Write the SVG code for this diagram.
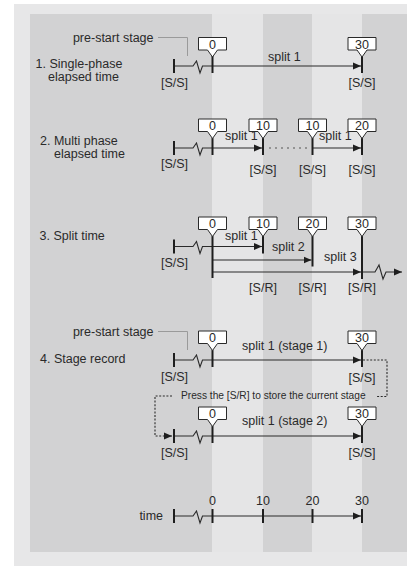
<svg xmlns="http://www.w3.org/2000/svg" xmlns:xlink="http://www.w3.org/1999/xlink" width="407" height="566" viewBox="0 0 407 566">
<style>
text{font-family:"Liberation Sans",Arial,sans-serif;font-size:12.5px;fill:#2a2a2a}
.c{text-anchor:middle}
.r{text-anchor:end}
.small{font-size:10.2px}
.ln{stroke:#2a2a2a;stroke-width:1.1;fill:none}
.tk{stroke:#1e1e1e;stroke-width:2;fill:none}
.box{fill:#fff;stroke:#2a2a2a;stroke-width:1}
.dot{stroke:#2a2a2a;stroke-width:1.1;fill:none;stroke-dasharray:2 1.6}
.dots{stroke:#555;stroke-width:1.1;fill:none;stroke-dasharray:2 4}
.lead{stroke:#9a9a9a;stroke-width:1;fill:none}
</style>
<defs>
<marker id="ah" viewBox="0 0 8 8" refX="8" refY="4" markerWidth="8" markerHeight="8" markerUnits="userSpaceOnUse" orient="auto">
<path d="M0,0.5 L8,4 L0,7.5 z" fill="#1e1e1e"/>
</marker>
<path id="co" class="box" d="M-14,0 H14 V12.5 H5 L0,19.5 L-5,12.5 H-14 Z"/>
</defs>
<rect x="0" y="0" width="407" height="566" fill="#fff"/>
<rect x="14" y="4" width="393" height="562" fill="#e7e7e8"/>
<rect x="30" y="14" width="377" height="538" fill="#d2d2d3"/>
<rect x="212" y="14" width="51" height="538" fill="#e5e5e6"/>
<rect x="312" y="14" width="50" height="538" fill="#e5e5e6"/>

<g id="row1">
<text x="35.5" y="68">1. Single-phase</text>
<text x="48" y="81">elapsed time</text>
<text class="r" x="153.5" y="41.5">pre-start stage</text>
<path class="ln" d="M174,66 H193 L196.5,61 L200,73 L202.5,66 H212.5"/>
<path class="ln" d="M212.5,66 H361" marker-end="url(#ah)"/>
<path class="tk" d="M174,59 V73 M212.5,56 V73 M362,56 V73"/>
<use xlink:href="#co" x="212.5" y="37.5"/>
<use xlink:href="#co" x="362" y="37.5"/>
<text class="c" x="212.5" y="48.5">0</text>
<text class="c" x="362" y="48.5">30</text>
<text x="268" y="61">split 1</text>
<text class="c" x="174.5" y="87">[S/S]</text>
<text class="c" x="362" y="87">[S/S]</text>
</g>

<g id="row2">
<text x="40" y="145">2. Multi phase</text>
<text x="54" y="157.5">elapsed time</text>
<path class="ln" d="M174,148 H193 L196.5,143 L200,155 L202.5,148 H212.5"/>
<path class="ln" d="M212.5,148 H262" marker-end="url(#ah)"/>
<path class="dots" d="M269,148 H308"/>
<path class="ln" d="M312,148 H361" marker-end="url(#ah)"/>
<path class="tk" d="M174,141 V155 M212.5,138 V155 M263,138 V155 M312.5,138 V155 M362,138 V155"/>
<use xlink:href="#co" x="212.5" y="119"/>
<use xlink:href="#co" x="263" y="119"/>
<use xlink:href="#co" x="312.5" y="119"/>
<use xlink:href="#co" x="362" y="119"/>
<text class="c" x="212.5" y="130">0</text>
<text class="c" x="263" y="130">10</text>
<text class="c" x="312.5" y="130">10</text>
<text class="c" x="362" y="130">20</text>
<text x="225" y="139.5">split 1</text>
<text x="319" y="139.5">split 1</text>
<text class="c" x="174.5" y="168">[S/S]</text>
<text class="c" x="263" y="174">[S/S]</text>
<text class="c" x="312.5" y="174">[S/S]</text>
<text class="c" x="362" y="174">[S/S]</text>
</g>

<g id="row3">
<text x="39.5" y="239.5">3. Split time</text>
<path class="ln" d="M174,246.5 H193 L196.5,241.5 L200,253.5 L202.5,246.5 H212.5"/>
<path class="ln" d="M212.5,246.5 H262" marker-end="url(#ah)"/>
<path class="ln" d="M212.5,260 H311.5" marker-end="url(#ah)"/>
<path class="ln" d="M212.5,272 H361" marker-end="url(#ah)"/>
<path class="ln" d="M362,272 H375 L379,265 L383,279 L386,272 H402" marker-end="url(#ah)"/>
<path class="tk" d="M174,239.5 V253.5 M212.5,236 V278 M263,236 V253.5 M312.5,236 V266.5 M362,236 V279"/>
<use xlink:href="#co" x="212.5" y="217"/>
<use xlink:href="#co" x="263" y="217"/>
<use xlink:href="#co" x="312.5" y="217"/>
<use xlink:href="#co" x="362" y="217"/>
<text class="c" x="212.5" y="228">0</text>
<text class="c" x="263" y="228">10</text>
<text class="c" x="312.5" y="228">20</text>
<text class="c" x="362" y="228">30</text>
<text x="225" y="240">split 1</text>
<text x="272" y="251">split 2</text>
<text x="324" y="260.5">split 3</text>
<text class="c" x="174.5" y="267">[S/S]</text>
<text class="c" x="263" y="291.5">[S/R]</text>
<text class="c" x="312.5" y="291.5">[S/R]</text>
<text class="c" x="362" y="291.5">[S/R]</text>
</g>

<g id="row4">
<text x="40" y="362.5">4. Stage record</text>
<text class="r" x="153.5" y="335.5">pre-start stage</text>
<path class="ln" d="M174,360 H193 L196.5,355 L200,367 L202.5,360 H212.5"/>
<path class="ln" d="M212.5,360 H361" marker-end="url(#ah)"/>
<path class="tk" d="M174,353 V367 M212.5,350 V367 M362,350 V367"/>
<use xlink:href="#co" x="212.5" y="331"/>
<use xlink:href="#co" x="362" y="331"/>
<text class="c" x="212.5" y="342">0</text>
<text class="c" x="362" y="342">30</text>
<text x="242" y="350">split 1 (stage 1)</text>
<text class="c" x="174.5" y="381">[S/S]</text>
<text class="c" x="362" y="381.5">[S/S]</text>
</g>

<g id="note">
<text class="small" x="181" y="399">Press the [S/R] to store the current stage</text>
</g>

<g id="row5">
<path class="ln" d="M174,436 H193 L196.5,431 L200,443 L202.5,436 H212.5"/>
<path class="ln" d="M212.5,436 H361" marker-end="url(#ah)"/>
<path class="tk" d="M174,429 V443 M212.5,426 V443 M362,426 V443"/>
<use xlink:href="#co" x="212.5" y="407"/>
<use xlink:href="#co" x="362" y="407"/>
<text class="c" x="212.5" y="418">0</text>
<text class="c" x="362" y="418">30</text>
<text x="242" y="425">split 1 (stage 2)</text>
<text class="c" x="174.5" y="457">[S/S]</text>
<text class="c" x="362" y="457">[S/S]</text>
</g>

<g id="timeaxis">
<text class="r" x="163" y="520">time</text>
<path class="ln" d="M174,516 H193 L196.5,511 L200,523 L202.5,516 H212.5"/>
<path class="ln" d="M212.5,516 H361" marker-end="url(#ah)"/>
<path class="tk" d="M174,509 V523 M212.5,509 V523 M263,509 V523 M312.5,509 V523 M362,509 V523"/>
<text class="c" x="212.5" y="505">0</text>
<text class="c" x="263" y="505">10</text>
<text class="c" x="312.5" y="505">20</text>
<text class="c" x="362" y="505">30</text>
</g>

<g id="connectors">
<path class="lead" d="M158,37.5 H187.5 V56"/>
<path class="lead" d="M158,331.5 H187.5 V350"/>
<path class="dot" d="M363,360 H387 V396.5 H376"/>
<path class="dot" d="M172,396 H155 V436 H172" marker-end="url(#ah)"/>
</g>
</svg>
